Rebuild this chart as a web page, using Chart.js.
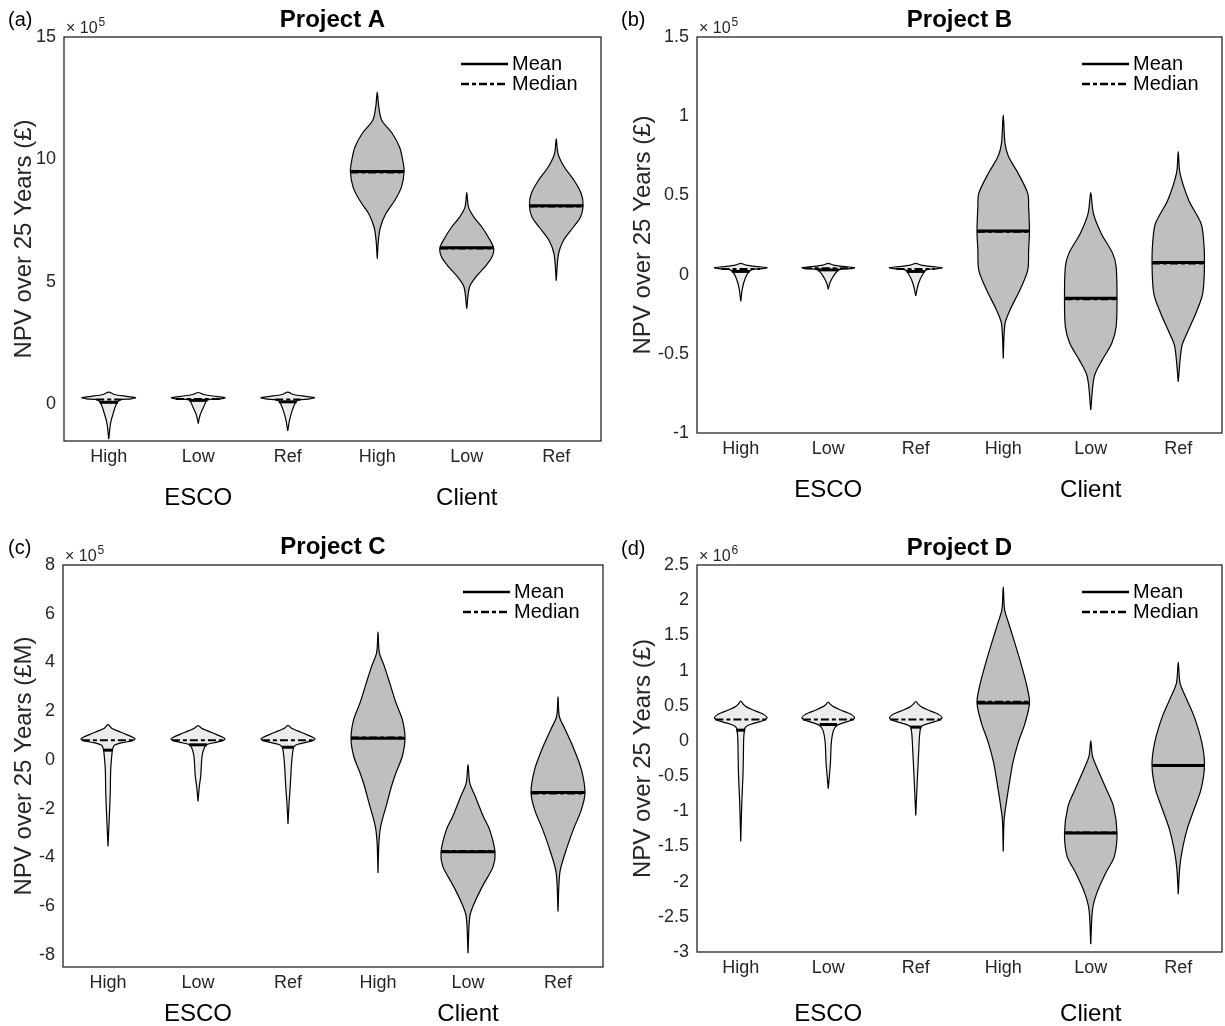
<!DOCTYPE html>
<html>
<head>
<meta charset="utf-8">
<title>NPV violins</title>
<script src="https://cdn.jsdelivr.net/npm/chart.js@4.4.1/dist/chart.umd.min.js"></script>
<style>
    body { margin: 0; background: #fff; width: 1225px; height: 1026px; position: relative; overflow: hidden; }
    canvas { position: absolute; }
</style>
</head>
<body>
<canvas id="chartA" width="612" height="510" style="left:0;top:0"></canvas>
<canvas id="chartB" width="613" height="510" style="left:612px;top:0"></canvas>
<canvas id="chartC" width="612" height="516" style="left:0;top:510px"></canvas>
<canvas id="chartD" width="613" height="516" style="left:612px;top:510px"></canvas>
<script>
// ============================================
// DATA
// ============================================

const categories = ['High', 'Low', 'Ref', 'High', 'Low', 'Ref'];
const groupNames = ['ESCO', 'Client'];
const legendNames = ['Mean', 'Median'];

// Violin profiles: NPV values (bottom tip -> top tip) and the density
// half-width at each value (scaled so the widest point is 0.3)

// --- Project A, x 10^5 £ ---
const aRange = [-1.5, 15];
const aTicks = [0, 5, 10, 15];
const aNpv = [
    [-1.43, -0.78, -0.37, -0.04, 0.17, 0.22, 0.27, 0.32, 0.40, 0.50],
    [-0.79, -0.45, -0.11, 0.17, 0.22, 0.27, 0.32, 0.40, 0.48],
    [-1.09, -0.65, -0.25, 0.10, 0.17, 0.22, 0.27, 0.32, 0.40, 0.50],
    [5.94, 6.69, 7.23, 7.78, 8.32, 8.87, 9.51, 9.96, 10.5, 11.05, 11.6, 12.14, 12.75],
    [3.9, 4.78, 5.19, 5.6, 6.0, 6.39, 6.83, 7.23, 7.64, 8.05, 8.64],
    [5.05, 6.14, 6.69, 7.23, 7.64, 8.11, 8.6, 9.14, 9.69, 10.23, 10.84]
];
const aDens = [
    [0, 0.02, 0.05, 0.08, 0.12, 0.25, 0.30, 0.20, 0.06, 0],
    [0, 0.02, 0.06, 0.10, 0.25, 0.30, 0.20, 0.06, 0],
    [0, 0.02, 0.05, 0.09, 0.12, 0.25, 0.30, 0.20, 0.06, 0],
    [0, 0.013, 0.035, 0.095, 0.195, 0.27, 0.30, 0.285, 0.25, 0.17, 0.05, 0.017, 0],
    [0, 0.03, 0.10, 0.20, 0.28, 0.30, 0.24, 0.17, 0.08, 0.02, 0],
    [0, 0.025, 0.08, 0.19, 0.27, 0.30, 0.28, 0.20, 0.09, 0.02, 0]
];
const aMean = [0.08, 0.16, 0.10, 9.51, 6.39, 8.11];
const aMeanDens = [0.10, 0.10, 0.10, 0.30, 0.30, 0.30];
const aMedian = [0.20, 0.22, 0.20, 9.47, 6.36, 8.08];
const aMedianDens = [0.14, 0.25, 0.14, 0.30, 0.30, 0.30];

// --- Project B, x 10^5 £ ---
const bRange = [-1, 1.5];
const bTicks = [-1, -0.5, 0, 0.5, 1, 1.5];
const bNpv = [
    [-0.17, -0.10, -0.05, 0.0, 0.03, 0.038, 0.044, 0.05, 0.06, 0.071],
    [-0.093, -0.05, 0.0, 0.03, 0.038, 0.044, 0.05, 0.06, 0.071],
    [-0.135, -0.08, -0.03, 0.01, 0.03, 0.038, 0.044, 0.05, 0.06, 0.071],
    [-0.53, -0.31, -0.22, -0.097, 0.029, 0.155, 0.275, 0.43, 0.513, 0.64, 0.745, 0.83, 1.008],
    [-0.855, -0.644, -0.54, -0.434, -0.33, -0.15, 0.05, 0.134, 0.26, 0.387, 0.517],
    [-0.676, -0.455, -0.37, -0.245, -0.118, 0.077, 0.218, 0.324, 0.47, 0.64, 0.776]
];
const bDens = [
    [0, 0.015, 0.035, 0.07, 0.12, 0.25, 0.30, 0.20, 0.06, 0],
    [0, 0.02, 0.07, 0.12, 0.25, 0.30, 0.20, 0.06, 0],
    [0, 0.02, 0.05, 0.09, 0.12, 0.25, 0.30, 0.20, 0.06, 0],
    [0, 0.02, 0.08, 0.19, 0.28, 0.29, 0.30, 0.29, 0.28, 0.17, 0.06, 0.02, 0],
    [0, 0.04, 0.13, 0.24, 0.29, 0.30, 0.29, 0.25, 0.12, 0.03, 0],
    [0, 0.04, 0.10, 0.20, 0.28, 0.30, 0.29, 0.26, 0.12, 0.02, 0]
];
const bMean = [0.02, 0.03, 0.02, 0.275, -0.15, 0.077];
const bMeanDens = [0.10, 0.12, 0.10, 0.30, 0.30, 0.30];
const bMedian = [0.035, 0.04, 0.035, 0.27, -0.155, 0.07];
const bMedianDens = [0.22, 0.28, 0.22, 0.30, 0.30, 0.30];

// --- Project C, x 10^5 £ ---
const cRange = [-8.5, 8];
const cTicks = [-8, -6, -4, -2, 0, 2, 4, 6, 8];
const cNpv = [
    [-3.55, -2.3, -1.36, -0.4, 0.29, 0.49, 0.6, 0.70, 0.78, 0.86, 0.92, 1.05, 1.2, 1.3, 1.45],
    [-1.7, -1.08, -0.67, 0.15, 0.5, 0.63, 0.72, 0.80, 0.86, 0.92, 1.05, 1.2, 1.3, 1.41],
    [-2.63, -1.77, -1.08, -0.12, 0.4, 0.53, 0.63, 0.72, 0.80, 0.86, 0.92, 1.05, 1.2, 1.3, 1.42],
    [-4.64, -3.41, -2.73, -1.77, -1.08, -0.53, 0.15, 0.89, 1.66, 2.34, 3.16, 3.85, 4.4, 5.26],
    [-7.93, -6.42, -5.88, -5.19, -4.37, -3.77, -2.86, -2.32, -1.49, -0.95, -0.19],
    [-6.22, -4.64, -3.82, -2.86, -2.04, -1.34, -0.4, 0.42, 1.25, 1.79, 2.59]
];
const cDens = [
    [0, 0.015, 0.025, 0.03, 0.045, 0.055, 0.07, 0.15, 0.26, 0.30, 0.28, 0.20, 0.10, 0.04, 0],
    [0, 0.015, 0.03, 0.045, 0.07, 0.10, 0.20, 0.28, 0.30, 0.28, 0.20, 0.10, 0.04, 0],
    [0, 0.012, 0.025, 0.04, 0.055, 0.065, 0.10, 0.20, 0.28, 0.30, 0.28, 0.20, 0.10, 0.04, 0],
    [0, 0.01, 0.03, 0.10, 0.15, 0.20, 0.27, 0.30, 0.27, 0.20, 0.13, 0.07, 0.015, 0],
    [0, 0.02, 0.07, 0.16, 0.28, 0.30, 0.24, 0.17, 0.08, 0.02, 0],
    [0, 0.02, 0.08, 0.17, 0.26, 0.30, 0.26, 0.18, 0.08, 0.015, 0]
];
const cMean = [0.40, 0.62, 0.52, 0.89, -3.77, -1.34];
const cMeanDens = [0.05, 0.10, 0.065, 0.30, 0.30, 0.30];
const cMedian = [0.81, 0.81, 0.81, 0.92, -3.74, -1.38];
const cMedianDens = [0.29, 0.29, 0.29, 0.30, 0.30, 0.30];

// --- Project D, x 10^6 £ ---
const dRange = [-3, 2.5];
const dTicks = [-3, -2.5, -2, -1.5, -1, -0.5, 0, 0.5, 1, 1.5, 2, 2.5];
const dNpv = [
    [-1.43, -0.88, -0.5, -0.217, 0.067, 0.186, 0.22, 0.26, 0.30, 0.333, 0.37, 0.40, 0.44, 0.48, 0.52, 0.565],
    [-0.68, -0.31, -0.027, 0.15, 0.22, 0.26, 0.30, 0.333, 0.37, 0.40, 0.44, 0.48, 0.515, 0.551],
    [-1.06, -0.5, -0.12, 0.1, 0.2, 0.23, 0.26, 0.30, 0.333, 0.37, 0.40, 0.44, 0.48, 0.52, 0.56],
    [-1.57, -1.12, -0.88, -0.6, -0.31, -0.027, 0.257, 0.54, 0.78, 1.11, 1.4, 1.68, 1.87, 2.19],
    [-2.89, -2.4, -2.16, -1.88, -1.64, -1.31, -0.93, -0.69, -0.407, -0.217, 0.0],
    [-2.18, -1.83, -1.59, -1.26, -0.975, -0.69, -0.35, -0.027, 0.352, 0.637, 0.826, 1.12]
];
const dDens = [
    [0, 0.012, 0.025, 0.03, 0.035, 0.05, 0.08, 0.18, 0.28, 0.30, 0.27, 0.22, 0.14, 0.07, 0.03, 0],
    [0, 0.025, 0.035, 0.06, 0.10, 0.18, 0.28, 0.30, 0.27, 0.22, 0.14, 0.07, 0.03, 0],
    [0, 0.02, 0.035, 0.045, 0.06, 0.10, 0.18, 0.28, 0.30, 0.27, 0.22, 0.14, 0.07, 0.03, 0],
    [0, 0.01, 0.035, 0.07, 0.11, 0.17, 0.25, 0.30, 0.27, 0.20, 0.13, 0.06, 0.015, 0],
    [0, 0.02, 0.07, 0.17, 0.27, 0.30, 0.26, 0.18, 0.08, 0.02, 0],
    [0, 0.015, 0.04, 0.10, 0.18, 0.26, 0.30, 0.27, 0.18, 0.08, 0.02, 0]
];
const dMean = [0.153, 0.233, 0.196, 0.54, -1.31, -0.35];
const dMeanDens = [0.05, 0.10, 0.065, 0.30, 0.30, 0.30];
const dMedian = [0.305, 0.305, 0.305, 0.555, -1.30, -0.35];
const dMedianDens = [0.29, 0.29, 0.29, 0.30, 0.30, 0.30];

// ============================================
// STYLE
// ============================================

const FONT = '"Liberation Sans", Arial, Helvetica, sans-serif';
const TEXT = '#262626';
const ESCO_FILL = '#ececec';
const CLIENT_FILL = '#bfbfbf';
const MEDIAN_DASH = [8, 3, 4, 3];

Chart.defaults.font.family = FONT;
Chart.defaults.color = TEXT;

/**
 * Build violin outlines + mean / median lines
 */
function buildDatasets(p) {
    const sets = [];
    p.npv.forEach((vals, i) => {
        const c = i + 1;
        const d = p.dens[i];
        const pts = vals.map((v, k) => ({ x: c + d[k], y: v }));
        for (let k = vals.length - 2; k >= 1; k--) {
            pts.push({ x: c - d[k], y: vals[k] });
        }
        pts.push({ x: c, y: vals[0] });
        sets.push({
            data: pts,
            showLine: true,
            fill: 'shape',
            backgroundColor: i < 3 ? ESCO_FILL : CLIENT_FILL,
            borderColor: '#000',
            borderWidth: 1.2,
            pointRadius: 0,
            tension: 0.3,
            order: 3
        });
    });
    p.median.forEach((v, i) => {
        sets.push({
            data: [{ x: i + 1 - p.medianDens[i], y: v }, { x: i + 1 + p.medianDens[i], y: v }],
            showLine: true,
            borderColor: '#000',
            borderWidth: 2,
            borderDash: MEDIAN_DASH,
            pointRadius: 0,
            order: 2
        });
    });
    p.mean.forEach((v, i) => {
        sets.push({
            data: [{ x: i + 1 - p.meanDens[i], y: v }, { x: i + 1 + p.meanDens[i], y: v }],
            showLine: true,
            borderColor: '#000',
            borderWidth: 3,
            pointRadius: 0,
            order: 1
        });
    });
    return sets;
}

// frame, panel letter, exponent and the mean/median key
const decorPlugin = {
    id: 'decor',
    afterDraw(chart, args, opts) {
        const { ctx } = chart;
        const { left, top, right, bottom } = chart.chartArea;
        ctx.save();

        ctx.strokeStyle = TEXT;
        ctx.lineWidth = 1.3;
        ctx.strokeRect(left, top, right - left, bottom - top);

        ctx.fillStyle = '#000';
        ctx.textBaseline = 'middle';
        ctx.font = '20px ' + FONT;
        ctx.fillText(opts.letter, opts.letterX, opts.letterY);

        ctx.fillStyle = TEXT;
        ctx.textBaseline = 'alphabetic';
        ctx.font = '16px ' + FONT;
        const base = '\u00d7 10';
        ctx.fillText(base, left + 2, top - 4);
        const w = ctx.measureText(base).width;
        ctx.font = '12px ' + FONT;
        ctx.fillText(opts.exponent, left + 3 + w, top - 11);

        // key
        const y1 = top + 27, y2 = top + 47;
        ctx.strokeStyle = '#000';
        ctx.lineWidth = 2.5;
        ctx.beginPath();
        ctx.moveTo(right - 140, y1);
        ctx.lineTo(right - 93, y1);
        ctx.stroke();
        ctx.setLineDash(MEDIAN_DASH);
        ctx.beginPath();
        ctx.moveTo(right - 140, y2);
        ctx.lineTo(right - 93, y2);
        ctx.stroke();
        ctx.setLineDash([]);
        ctx.fillStyle = '#000';
        ctx.font = '20px ' + FONT;
        ctx.textBaseline = 'middle';
        ctx.fillText(legendNames[0], right - 89, y1);
        ctx.fillText(legendNames[1], right - 89, y2);
        ctx.restore();
    }
};

/**
 * Create one violin panel
 */
function makePanel(p) {
    const canvas = document.getElementById(p.id);
    const W = canvas.width, H = canvas.height;
    const a = p.area;
    const xh = 30;

    return new Chart(canvas, {
        type: 'scatter',
        data: { datasets: buildDatasets(p) },
        options: {
            responsive: false,
            animation: false,
            layout: { padding: { left: 0, top: 0, right: W - a.right, bottom: 0 } },
            plugins: {
                legend: { display: false },
                tooltip: { enabled: false },
                title: {
                    display: true,
                    text: p.title,
                    fullSize: false,
                    color: '#000',
                    font: { size: 24, weight: 'bold', lineHeight: 1.2 },
                    padding: { top: p.titleY - 14.4, bottom: a.top - p.titleY - 14.4 }
                },
                decor: { letter: p.letter, letterX: p.letterX, letterY: p.letterY, exponent: p.exponent }
            },
            scales: {
                x: {
                    type: 'linear',
                    min: 0.5,
                    max: 6.5,
                    grid: { display: false, drawTicks: false },
                    border: { display: false },
                    afterBuildTicks: s => { s.ticks = categories.map((_, i) => ({ value: i + 1 })); },
                    afterFit: s => { s.height = xh; },
                    ticks: {
                        autoSkip: false,
                        maxRotation: 0,
                        padding: 5,
                        font: { size: 18 },
                        callback: v => categories[v - 1]
                    }
                },
                x2: {
                    type: 'linear',
                    position: 'bottom',
                    min: 0.5,
                    max: 6.5,
                    grid: { display: false, drawTicks: false },
                    border: { display: false },
                    afterBuildTicks: s => { s.ticks = groupNames.map((_, g) => ({ value: 2 + 3 * g })); },
                    afterFit: s => { s.height = H - a.bottom - xh; },
                    ticks: {
                        autoSkip: false,
                        maxRotation: 0,
                        padding: p.groupPad,
                        color: '#000',
                        font: { size: 24 },
                        callback: v => groupNames[(v - 2) / 3]
                    }
                },
                y: {
                    type: 'linear',
                    min: p.range[0],
                    max: p.range[1],
                    grid: { display: false, drawTicks: false },
                    border: { display: false },
                    afterBuildTicks: s => { s.ticks = p.ticks.map(v => ({ value: v })); },
                    afterFit: s => { s.width = a.left; },
                    ticks: {
                        autoSkip: false,
                        padding: 8,
                        font: { size: 18 },
                        callback: v => String(v)
                    },
                    title: {
                        display: true,
                        text: p.yLabel,
                        font: { size: 24, lineHeight: 1.2 },
                        padding: { top: p.yTitleX - 14.4, bottom: 0 }
                    }
                }
            }
        },
        plugins: [decorPlugin]
    });
}

// ============================================
// INIT
// ============================================

document.addEventListener('DOMContentLoaded', () => {
    makePanel({
        id: 'chartA', title: 'Project A', letter: '(a)', exponent: '5', yLabel: 'NPV over 25 Years (\u00a3)',
        range: aRange, ticks: aTicks, npv: aNpv, dens: aDens,
        mean: aMean, meanDens: aMeanDens, median: aMedian, medianDens: aMedianDens,
        area: { left: 64, top: 37, right: 601, bottom: 441 },
        titleY: 20, letterX: 8, letterY: 20, yTitleX: 24, groupPad: 12.5
    });
    makePanel({
        id: 'chartB', title: 'Project B', letter: '(b)', exponent: '5', yLabel: 'NPV over 25 Years (\u00a3)',
        range: bRange, ticks: bTicks, npv: bNpv, dens: bDens,
        mean: bMean, meanDens: bMeanDens, median: bMedian, medianDens: bMedianDens,
        area: { left: 85, top: 37, right: 610, bottom: 433 },
        titleY: 20.5, letterX: 9, letterY: 20, yTitleX: 31, groupPad: 12.8
    });
    makePanel({
        id: 'chartC', title: 'Project C', letter: '(c)', exponent: '5', yLabel: 'NPV over 25 Years (\u00a3M)',
        range: cRange, ticks: cTicks, npv: cNpv, dens: cDens,
        mean: cMean, meanDens: cMeanDens, median: cMedian, medianDens: cMedianDens,
        area: { left: 63, top: 55, right: 603, bottom: 457 },
        titleY: 37, letterX: 8, letterY: 38, yTitleX: 24, groupPad: 2.8
    });
    makePanel({
        id: 'chartD', title: 'Project D', letter: '(d)', exponent: '6', yLabel: 'NPV over 25 Years (\u00a3)',
        range: dRange, ticks: dTicks, npv: dNpv, dens: dDens,
        mean: dMean, meanDens: dMeanDens, median: dMedian, medianDens: dMedianDens,
        area: { left: 85, top: 55, right: 610, bottom: 442 },
        titleY: 38, letterX: 9, letterY: 39, yTitleX: 31, groupPad: 17.8
    });
});
</script>
</body>
</html>
